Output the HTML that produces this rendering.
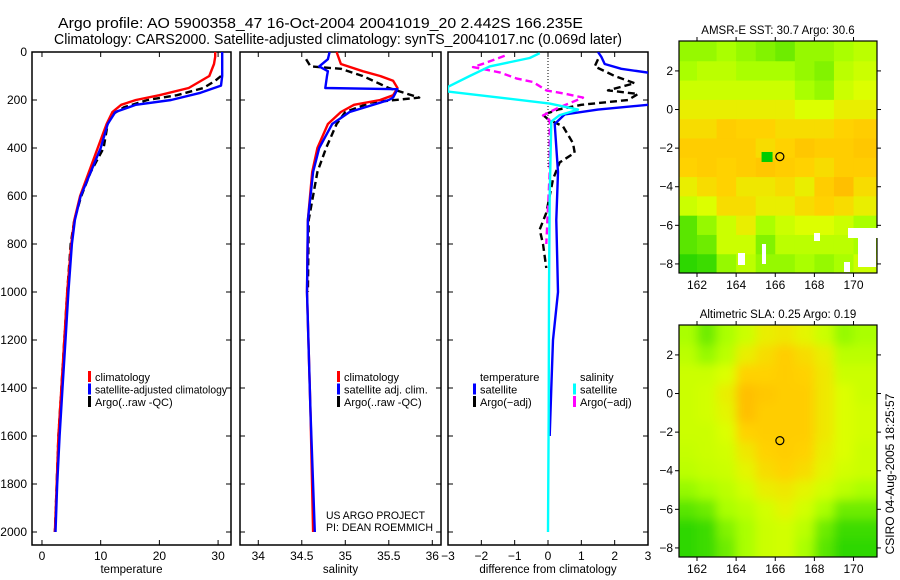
<!DOCTYPE html>
<html><head><meta charset="utf-8"><style>
html,body{margin:0;padding:0;background:#fff;}
svg{display:block;font-family:"Liberation Sans",sans-serif;}
</style></head><body>
<svg id="fig" width="900" height="580" viewBox="0 0 900 580">
<text x="58" y="28" font-size="14.5" textLength="525" lengthAdjust="spacingAndGlyphs">Argo profile: AO 5900358_47 16-Oct-2004 20041019_20 2.442S 166.235E</text>
<text x="54" y="44" font-size="14.5" textLength="568" lengthAdjust="spacingAndGlyphs">Climatology: CARS2000. Satellite-adjusted climatology: synTS_20041017.nc (0.069d later)</text>
</svg>
<script>
// ---------- data ----------
const tempClimDepth=[0,20,50,100,150,180,200,220,250,300,400,500,600,700,800,1000,1200,1400,1600,1800,2000];
const tempClimVal=[29.5,29.5,29.3,28.5,25,20,16,13.5,12,11,9.5,8,6.5,5.5,5,4.3,3.8,3.3,2.8,2.5,2.2];
const tempSatDepth=[0,100,140,170,200,220,250,300,400,500,600,700,800,1000,1200,1400,1600,1800,2000];
const tempSatVal=[30.7,30.7,30.5,27,22,16,12.5,11.2,10,8.3,6.6,5.6,5.1,4.5,4,3.5,3,2.6,2.3];
const tempArgoDepth=[100,120,150,180,200,230,260,300,400,500,600,700,800,1000,1200,1400,1600,1800,2000];
const tempArgoVal=[30.5,29.5,27.5,23,18,14,12,11.2,10.5,8.3,6.7,5.5,4.9,4.3,3.8,3.3,2.8,2.5,2.2];
const salClimDepth=[0,50,80,100,120,150,180,200,220,250,300,400,500,700,1000,1500,2000];
const salClimVal=[34.9,34.95,35.2,35.4,35.55,35.6,35.55,35.4,35.1,34.95,34.8,34.68,34.62,34.57,34.56,34.6,34.63];
const salSatDepth=[0,30,60,80,100,150,155,190,200,250,300,400,500,700,1000,1500,2000];
const salSatVal=[34.82,34.8,34.7,34.8,34.79,34.77,35.6,35.55,35.5,35.05,34.85,34.7,34.63,34.57,34.56,34.6,34.65];
const salArgoDepth=[30,60,70,100,150,190,210,250,300,400,500,700,1000];
const salArgoVal=[34.55,34.6,34.95,35.2,35.5,35.85,35.3,35.0,34.9,34.78,34.68,34.58,34.57];
const dTSatDepth=[0,20,50,70,90,200,220,240,260,300,500,700,1000,1200,1400,1600];
const dTSatVal=[1.5,1.6,1.7,2.2,3.2,3.2,3.0,1.5,0.5,0.2,0.3,0.25,0.3,0.15,0.1,0.05];
const dTArgoDepth=[30,60,100,130,160,175,200,220,240,262,280,310,380,420,460,530,670,740,800,900];
const dTArgoVal=[1.5,1.4,2.0,2.6,1.8,2.7,2.4,1.0,0.3,-0.15,0.0,0.45,0.75,0.8,0.35,0.15,-0.05,-0.25,-0.15,-0.05];
const dSSatDepth=[5,25,60,100,145,165,185,215,240,263,290,600,1000,1500,2000];
const dSSatVal=[-0.25,-0.55,-1.75,-2.35,-3.0,-3.0,-1.75,0.05,0.9,0.35,0.1,0.05,0.03,0.02,0.0];
const dSArgoDepth=[16,49,63,85,110,125,160,175,190,235,264,285,500,800];
const dSArgoVal=[-1.3,-1.95,-2.25,-1.45,-0.95,-0.45,-0.05,0.55,1.05,0.27,-0.15,0.05,0.05,-0.05];
const depthTicks=[0,200,400,600,800,1000,1200,1400,1600,1800,2000];
const tempTicks=[0,10,20,30];
const salTicks=[34,34.5,35,35.5,36];
const diffTicks=[-3,-2,-1,0,1,2,3];
const lonTicks=[162,164,166,168,170];
const latTicks=[2,0,-2,-4,-6,-8];
const mapLons=[161.5,162.5,163.5,164.5,165.5,166.5,167.5,168.5,169.5,170.5];
const mapLats=[3,2,1,0,-1,-2,-3,-4,-5,-6,-7,-8];
const sstGrid=[
[.45,.45,.5,.45,.4,.35,.45,.45,.5,.55],
[.5,.55,.55,.5,.5,.5,.45,.4,.55,.6],
[.6,.6,.6,.6,.6,.6,.5,.45,.6,.65],
[.7,.7,.7,.7,.7,.7,.65,.65,.7,.7],
[.75,.75,.8,.78,.78,.75,.75,.75,.78,.8],
[.8,.8,.8,.8,.75,.78,.82,.8,.8,.82],
[.78,.8,.78,.8,.82,.8,.78,.75,.8,.8],
[.7,.75,.78,.72,.72,.75,.7,.8,.85,.75],
[.6,.65,.75,.75,.7,.7,.75,.78,.75,.7],
[.3,.45,.6,.7,.5,.6,.65,.65,.6,.5],
[.3,.35,.6,.6,.4,.55,.55,.55,.55,.5],
[.15,.2,.45,.55,.45,.45,.5,.45,.5,.6]];
const slaGrid=[
[.5,.35,.5,.6,.7,.72,.68,.6,.45,.5],
[.55,.45,.55,.7,.75,.8,.75,.7,.55,.55],
[.6,.6,.65,.78,.78,.8,.78,.72,.6,.6],
[.6,.62,.7,.85,.82,.8,.8,.72,.65,.6],
[.6,.62,.68,.85,.8,.8,.8,.72,.65,.62],
[.6,.6,.65,.78,.8,.8,.8,.72,.65,.62],
[.58,.6,.62,.72,.78,.8,.78,.7,.65,.6],
[.55,.58,.6,.68,.75,.78,.75,.68,.62,.6],
[.45,.5,.55,.62,.7,.72,.68,.62,.55,.5],
[.3,.35,.5,.55,.62,.68,.62,.5,.35,.35],
[.15,.2,.4,.5,.6,.62,.55,.35,.2,.2],
[.15,.2,.35,.5,.6,.62,.5,.3,.15,.15]];
const floatLon=166.235, floatLat=-2.442;

// ---------- helpers ----------
const NS="http://www.w3.org/2000/svg";
const svg=document.getElementById('fig');
function mk(tag,attrs,parent){const e=document.createElementNS(NS,tag);for(const k in attrs)e.setAttribute(k,attrs[k]);(parent||svg).appendChild(e);return e;}
function txt(x,y,s,size,anchor,parent){const t=mk('text',{x:x,y:y,'font-size':size,'text-anchor':anchor||'start'},parent);t.textContent=s;return t;}

const yTop=52,yBot=545;
const depthY=d=>52+d*0.24;

function panel(name,x0,x1,vmin,vmax,ticks,title,showDepth){
  const g=mk('g',{});
  
  
  const sx=v=>x0+(v-vmin)/(vmax-vmin)*(x1-x0);
  const fr=mk('rect',{x:x0,y:yTop,width:x1-x0,height:yBot-yTop,fill:'none',stroke:'#000','stroke-width':1.5},g);
  
  
  ticks.forEach(v=>{const x=sx(v);
    mk('line',{x1:x,x2:x,y1:yBot,y2:yBot-5,stroke:'#000'},g);
    mk('line',{x1:x,x2:x,y1:yTop,y2:yTop+5,stroke:'#000'},g);
    const t=txt(x,560,String(v).replace('-','\u2212'),12,'middle',g);
    
    
  });
  depthTicks.forEach(d=>{const y=depthY(d);
    mk('line',{x1:x0,x2:x0+5,y1:y,y2:y,stroke:'#000'},g);
    mk('line',{x1:x1,x2:x1-5,y1:y,y2:y,stroke:'#000'},g);
    if(showDepth){const t=txt(27,y+4,String(d),12,'end',g);
      
      }
  });
  const at=txt((x0+x1)/2,573,title,11.5,'middle',g);
  
  
  return {g,sx};
}
function series(p,depths,vals,color,dash,name,clipId){
  const pts=depths.map((d,i)=>p.sx(vals[i]).toFixed(1)+','+depthY(d).toFixed(1)).join(' ');
  const a={points:pts,fill:'none',stroke:color,'stroke-width':2.4,'stroke-linejoin':'round'};
  if(dash)a['stroke-dasharray']=dash;
  if(clipId)a['clip-path']='url(#'+clipId+')';
  const l=mk('polyline',a,p.g);
  
  
}
function legend(p,x,y,items){
  items.forEach((it,i)=>{
    const yy=y+i*12.5;
    if(it.c){const b=mk('rect',{x:x,y:yy-10,width:3,height:11,fill:it.c},p.g);
      
      }
    const t=txt(x+7,yy,it.t,11,'start',p.g);
    if(it.w){t.setAttribute('textLength',it.w);
      t.setAttribute('lengthAdjust','spacingAndGlyphs');}
    
    
  });
}

// ---------- profile panels ----------
const defs=mk('defs',{});
const cp=mk('clipPath',{id:'clipDiff'},defs);
mk('rect',{x:448,y:yTop,width:200,height:yBot-yTop},cp);

const p1=panel('temperature-panel',32,231,-1.7,32.2,tempTicks,'temperature',true);
series(p1,tempArgoDepth,tempArgoVal,'#000','7,4','temp-argo-line');
series(p1,tempClimDepth,tempClimVal,'#ff0000',null,'temp-climatology-line');
series(p1,tempSatDepth,tempSatVal,'#0000ff',null,'temp-satellite-line');
legend(p1,88,381,[{c:'#ff0000',t:'climatology'},{c:'#0000ff',t:'satellite-adjusted climatology',w:132},{c:'#000',t:'Argo(..raw -QC)'}]);

const p2=panel('salinity-panel',240,441,33.79,36.1,salTicks,'salinity',false);
series(p2,salArgoDepth,salArgoVal,'#000','7,4','sal-argo-line');
series(p2,salClimDepth,salClimVal,'#ff0000',null,'sal-climatology-line');
series(p2,salSatDepth,salSatVal,'#0000ff',null,'sal-satellite-line');
legend(p2,337,381,[{c:'#ff0000',t:'climatology'},{c:'#0000ff',t:'satellite adj. clim.'},{c:'#000',t:'Argo(..raw -QC)'}]);
const c1=txt(326,519,'US ARGO PROJECT',11,'start',p2.g);
c1.setAttribute('textLength','99');
c1.setAttribute('lengthAdjust','spacingAndGlyphs');


const c2=txt(326,531,'PI: DEAN ROEMMICH',11,'start',p2.g);
c2.setAttribute('textLength','107');
c2.setAttribute('lengthAdjust','spacingAndGlyphs');



const p3=panel('difference-panel',448,648,-3,3,diffTicks,'difference from climatology',false);
const zl=mk('line',{x1:p3.sx(0),x2:p3.sx(0),y1:yTop,y2:depthY(480),stroke:'#000','stroke-dasharray':'1,2'},p3.g);


series(p3,dTArgoDepth,dTArgoVal,'#000','7,4','diff-temp-argo-line','clipDiff');
series(p3,dSArgoDepth,dSArgoVal,'#ff00ff','7,4','diff-sal-argo-line','clipDiff');
series(p3,dTSatDepth,dTSatVal,'#0000ff',null,'diff-temp-satellite-line','clipDiff');
series(p3,dSSatDepth,dSSatVal,'#00ffff',null,'diff-sal-satellite-line','clipDiff');
legend(p3,473,381,[{c:null,t:'temperature'},{c:'#0000ff',t:'satellite'},{c:'#000',t:'Argo(\u2212adj)'}]);
legend(p3,573,381,[{c:null,t:'salinity'},{c:'#00ffff',t:'satellite'},{c:'#ff00ff',t:'Argo(\u2212adj)'}]);

// ---------- maps ----------
function cmap(v){
  const stops=[[0,[0,200,0]],[0.3,[90,230,0]],[0.5,[170,255,0]],[0.65,[220,255,0]],[0.78,[255,210,0]],[1,[255,150,0]]];
  for(let i=1;i<stops.length;i++){if(v<=stops[i][0]){const a=stops[i-1],b=stops[i];const t=(v-a[0])/(b[0]-a[0]);
    return 'rgb('+a[1].map((c,k)=>Math.round(c+(b[1][k]-c)*t)).join(',')+')';}}
  return 'rgb(255,150,0)';
}
function map(name,y0,y1,grid,title,blur){
  const x0=679,x1=877,lonMin=161.08,lonMax=171.2,latMax=3.55,latMin=-8.47;
  const sx=l=>x0+(l-lonMin)/(lonMax-lonMin)*(x1-x0);
  const sy=l=>y0+(latMax-l)/(latMax-latMin)*(y1-y0);
  const g=mk('g',{});
  
  
  const id='clip'+name;
  const c=mk('clipPath',{id:id},defs);mk('rect',{x:x0,y:y0,width:x1-x0,height:y1-y0},c);
  const cells=mk('g',{'clip-path':'url(#'+id+')'},g);
  const inner=mk('g',blur?{filter:'url(#blur)'}:{},cells);
  grid.forEach((row,r)=>row.forEach((v,k)=>{
    const lt=mapLats[r],ln=mapLons[k];
    const top=r===0?y0-15:sy(lt+0.5), bot=r===grid.length-1?y1+15:sy(lt-0.5);
    const left=k===0?x0-15:sx(ln-0.5), right=k===row.length-1?x1+15:sx(ln+0.5);
    const cell=mk('rect',{x:left,y:top,width:right-left+0.5,height:bot-top+0.5,fill:cmap(v)},inner);
    
    
  }));
  const fr=mk('rect',{x:x0,y:y0,width:x1-x0,height:y1-y0,fill:'none',stroke:'#000','stroke-width':1.2},g);
  
  
  lonTicks.forEach(l=>{const x=sx(l);
    mk('line',{x1:x,x2:x,y1:y1,y2:y1+4,stroke:'#000'},g);
    mk('line',{x1:x,x2:x,y1:y0,y2:y0-4,stroke:'#000'},g);
    const t=txt(x,y1+16,String(l),12,'middle',g);
    
    });
  latTicks.forEach(l=>{const y=sy(l);
    mk('line',{x1:x0,x2:x0-4,y1:y,y2:y,stroke:'#000'},g);
    mk('line',{x1:x1,x2:x1+4,y1:y,y2:y,stroke:'#000'},g);
    const t=txt(673,y+4,String(l).replace('-','\u2212'),12,'end',g);
    
    });
  const ci=mk('circle',{cx:sx(floatLon),cy:sy(floatLat),r:4,fill:'none',stroke:'#000','stroke-width':1.2},g);
  
  
  const tt=txt(778,y0-7,title,11.5,'middle',g);
  
  
  return {sx,sy,g};
}
const f=mk('filter',{id:'blur',x:'-10%',y:'-10%',width:'120%',height:'120%'},defs);
mk('feGaussianBlur',{stdDeviation:5},f);
const m1=map('sst-map',41,273,sstGrid,'AMSR-E SST: 30.7 Argo: 30.6',false);
[[738,253,7,12],[762,244,4,20],[848,228,30,10],[858,237,18,30],[814,233,6,8],[844,262,6,10]].forEach(r=>{
  const w=mk('rect',{x:r[0],y:r[1],width:r[2],height:r[3],fill:'#fff'},m1.g);
  
  });
const gp=mk('rect',{x:m1.sx(165.3),y:m1.sy(-2.2),width:11,height:10,fill:'#00cc00'},m1.g);


map('sla-map',325,557,slaGrid,'Altimetric SLA: 0.25 Argo: 0.19',true);
const st=txt(0,0,'CSIRO 04-Aug-2005 18:25:57',12,'middle');
st.setAttribute('transform','translate(894,474) rotate(-90)');


</script>
</body></html>
